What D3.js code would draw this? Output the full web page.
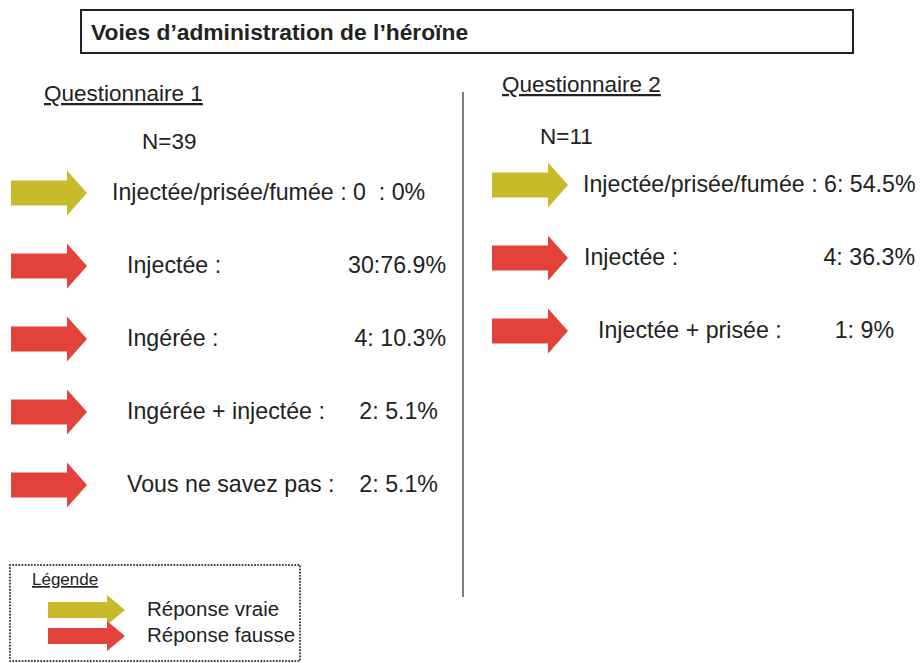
<!DOCTYPE html>
<html>
<head>
<meta charset="utf-8">
<script src="https://cdn.jsdelivr.net/npm/d3@7"></script>
<style>
  body { margin: 0; background: #fff; }
  text { font-family: "Liberation Sans", Arial, Helvetica, sans-serif; fill: #222; white-space: pre; }
</style>
</head>
<body>
<svg></svg>
<script>
const size = {w: 923, h: 663};
const title = 'Voies d’administration de l’héroïne';

// questionnaire 1
const q1Title = 'Questionnaire 1';
const q1N = 39;
const q1Labels = ['Injectée/prisée/fumée', 'Injectée :', 'Ingérée :', 'Ingérée + injectée :', 'Vous ne savez pas :'];
const q1Counts = [0, 30, 4, 2, 2];
const q1Pcts = [0, 76.9, 10.3, 5.1, 5.1];
const q1Sep = ['  : ', ':', ': ', ': ', ': '];
const q1Correct = [true, false, false, false, false];

// questionnaire 2
const q2Title = 'Questionnaire 2';
const q2N = 11;
const q2Labels = ['Injectée/prisée/fumée', 'Injectée :', 'Injectée + prisée :'];
const q2Counts = [6, 4, 1];
const q2Pcts = [54.5, 36.3, 9];
const q2Sep = [': ', ': ', ': '];
const q2Correct = [true, false, false];

const legendLabels = ['Réponse vraie', 'Réponse fausse'];
const legendCorrect = [true, false];

const colors = {true: '#c8bb2b', false: '#e3423a'};

const svg = d3.select('svg')
    .attr('width', size.w)
    .attr('height', size.h);

// arrow shape: body then triangular head
function arrowPath(x0, cy, len, headLen, bodyH, headH) {
    const p = d3.path();
    const xb = x0 + len - headLen;
    p.moveTo(x0, cy - bodyH / 2);
    p.lineTo(xb, cy - bodyH / 2);
    p.lineTo(xb, cy - headH / 2);
    p.lineTo(x0 + len, cy);
    p.lineTo(xb, cy + headH / 2);
    p.lineTo(xb, cy + bodyH / 2);
    p.lineTo(x0, cy + bodyH / 2);
    p.closePath();
    return p.toString();
}

// title box
svg.append('rect')
    .attr('x', 81).attr('y', 10)
    .attr('width', 772).attr('height', 43)
    .attr('fill', 'none')
    .attr('stroke', '#222')
    .attr('stroke-width', 2);
svg.append('text')
    .attr('x', 91).attr('y', 40)
    .style('font-size', '22.8px')
    .style('font-weight', 'bold')
    .text(title);

// separator
svg.append('line')
    .attr('x1', 463).attr('x2', 463)
    .attr('y1', 92).attr('y2', 597)
    .attr('stroke', '#555')
    .attr('stroke-width', 1.5);

function drawColumn(cfg) {
    const g = svg.append('g');
    const rows = cfg.labels.map((l, i) => ({
        label: l, count: cfg.counts[i], pct: cfg.pcts[i],
        sep: cfg.sep[i], ok: cfg.correct[i], i: i
    }));
    const y = d3.scaleLinear()
        .domain([0, rows.length - 1])
        .range(cfg.yRange);

    g.append('text')
        .attr('x', cfg.headX).attr('y', cfg.headY)
        .style('font-size', '22.5px')
        .style('text-decoration', 'underline')
        .text(cfg.title);
    g.append('text')
        .attr('x', cfg.nX).attr('y', cfg.nY)
        .style('font-size', '22.5px')
        .text('N=' + cfg.n);

    g.selectAll('path.arrow')
        .data(rows)
        .enter()
        .append('path')
        .attr('class', 'arrow')
        .attr('d', d => arrowPath(cfg.arrowX, y(d.i), 76, 20, 25, 45))
        .attr('fill', d => colors[d.ok]);

    g.selectAll('text.label')
        .data(rows)
        .enter()
        .append('text')
        .attr('class', 'label')
        .attr('x', d => cfg.labelX[d.i])
        .attr('y', d => y(d.i) + 7)
        .style('font-size', '23.2px')
        .text(d => d.i === 0
            ? d.label + ' : ' + d.count + d.sep + d.pct + '%'
            : d.label);

    g.selectAll('text.value')
        .data(rows.filter(d => d.i > 0))
        .enter()
        .append('text')
        .attr('class', 'value')
        .attr('x', d => cfg.valueEnd[d.i])
        .attr('y', d => y(d.i) + 7)
        .attr('text-anchor', 'end')
        .style('font-size', '23.2px')
        .text(d => d.count + d.sep + d.pct + '%');
}

drawColumn({
    title: q1Title, n: q1N, labels: q1Labels, counts: q1Counts, pcts: q1Pcts,
    sep: q1Sep, correct: q1Correct,
    headX: 44, headY: 101, nX: 142, nY: 149,
    arrowX: 11, yRange: [193, 485],
    labelX: [112, 127, 127, 127, 127],
    valueEnd: [0, 446, 446, 438, 438]
});

drawColumn({
    title: q2Title, n: q2N, labels: q2Labels, counts: q2Counts, pcts: q2Pcts,
    sep: q2Sep, correct: q2Correct,
    headX: 502, headY: 92, nX: 540, nY: 144,
    arrowX: 492, yRange: [185, 331],
    labelX: [583, 584, 598],
    valueEnd: [0, 915, 894]
});

// legend
const lg = svg.append('g');
lg.append('rect')
    .attr('x', 10).attr('y', 565)
    .attr('width', 290).attr('height', 96)
    .attr('fill', 'none')
    .attr('stroke', '#333')
    .attr('stroke-width', 2)
    .attr('stroke-linecap', 'round')
    .attr('stroke-dasharray', '0.1 3');
lg.append('text')
    .attr('x', 32).attr('y', 585)
    .style('font-size', '17px')
    .style('text-decoration', 'underline')
    .text('Légende');
const ly = d3.scalePoint().domain(legendLabels).range([610, 636]);
lg.selectAll('path')
    .data(legendLabels)
    .enter()
    .append('path')
    .attr('d', d => arrowPath(48, ly(d), 77, 18, 16, 30))
    .attr('fill', (d, i) => colors[legendCorrect[i]]);
lg.selectAll('text.leg')
    .data(legendLabels)
    .enter()
    .append('text')
    .attr('class', 'leg')
    .attr('x', 147)
    .attr('y', d => ly(d) + 6)
    .style('font-size', '20.5px')
    .text(d => d);
</script>
</body>
</html>
